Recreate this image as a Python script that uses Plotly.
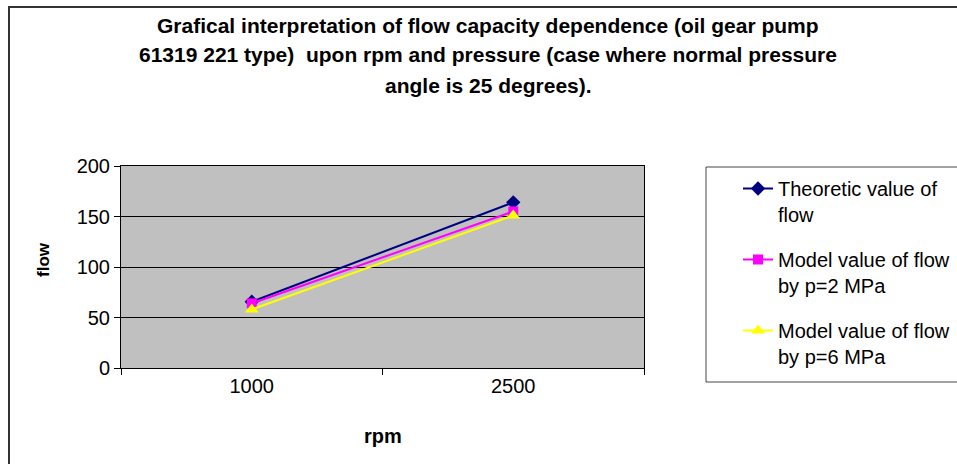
import plotly.graph_objects as go

rpm = ["1000", "2500"]
theoretic = [65.6, 164]
model_p2 = [64, 155]
model_p6 = [58, 151]

series_names = ["Theoretic value of<br>flow", "Model value of flow<br>by p=2 MPa", "Model value of flow<br>by p=6 MPa"]
title_lines = [
    "Grafical interpretation of flow capacity dependence (oil gear pump",
    "61319 221 type)  upon rpm and pressure (case where normal pressure",
    "angle is 25 degrees).",
]

FONT = "Liberation Sans, Arial, sans-serif"
W, H = 957, 464
L, R, T, B = 121, 313, 166, 96
PW, PH = W - L - R, H - T - B

def px(x):
    return (x - L) / PW

def py(y):
    return (H - B - y) / PH

fig = go.Figure()
styles = [
    dict(color="#000080", symbol="diamond", size=11),
    dict(color="#FF00FF", symbol="square", size=10),
    dict(color="#FFFF00", symbol="triangle-up", size=12),
]
for i, (name, vals) in enumerate(zip(series_names, [theoretic, model_p2, model_p6])):
    st = styles[i]
    fig.add_trace(go.Scatter(
        x=rpm, y=vals, name=name, mode="lines+markers",
        legendgroup=f"g{i}",
        line=dict(color=st["color"], width=2),
        marker=dict(color=st["color"], symbol=st["symbol"], size=st["size"],
                    line=dict(width=0)),
    ))

annotations = []
for k, (line, yy) in enumerate(zip(title_lines, [25, 55, 85])):
    annotations.append(dict(
        text=f"<b>{line}</b>", x=px(488), y=py(yy), xref="paper", yref="paper",
        xanchor="center", yanchor="middle", showarrow=False,
        font=dict(family=FONT, size=21, color="black"),
    ))
annotations.append(dict(
    text="<b>flow</b>", x=px(43), y=py(260), xref="paper", yref="paper",
    xanchor="center", yanchor="middle", showarrow=False, textangle=-90,
    font=dict(family=FONT, size=17, color="black"),
))
annotations.append(dict(
    text="<b>rpm</b>", x=px(383), y=py(436), xref="paper", yref="paper",
    xanchor="center", yanchor="middle", showarrow=False,
    font=dict(family=FONT, size=20, color="black"),
))

shapes = [
    dict(type="rect", xref="paper", yref="paper",
         x0=px(9), x1=px(980), y0=py(490), y1=py(7),
         line=dict(color="#333333", width=2), fillcolor="rgba(0,0,0,0)", layer="below"),
    dict(type="rect", xref="paper", yref="paper",
         x0=px(706), x1=px(980), y0=py(382), y1=py(167),
         line=dict(color="#444444", width=1), fillcolor="rgba(0,0,0,0)"),
]

fig.update_layout(
    width=W, height=H,
    margin=dict(l=L, r=R, t=T, b=B, autoexpand=False),
    paper_bgcolor="white",
    plot_bgcolor="#C0C0C0",
    font=dict(family=FONT, size=18, color="black"),
    showlegend=True,
    legend=dict(
        x=px(738), y=py(169), xanchor="left", yanchor="top",
        bgcolor="rgba(0,0,0,0)", borderwidth=0,
        font=dict(family=FONT, size=20, color="black"),
        tracegroupgap=16, valign="top", maxheight=420,
    ),
    annotations=annotations,
    shapes=shapes,
    xaxis=dict(
        type="category", range=[-0.5, 1.5],
        showline=True, linecolor="black", linewidth=1, mirror=True,
        ticks="outside", ticklen=6, tickcolor="black", tickson="boundaries",
        showgrid=False, tickfont=dict(family=FONT, size=20),
    ),
    yaxis=dict(
        range=[0, 200], dtick=50,
        showline=True, linecolor="black", linewidth=1, mirror=True,
        ticks="outside", ticklen=6, tickcolor="black",
        showgrid=True, gridcolor="black", gridwidth=1, zeroline=False,
        tickfont=dict(family=FONT, size=20),
    ),
)

fig.write_html("out.html")
